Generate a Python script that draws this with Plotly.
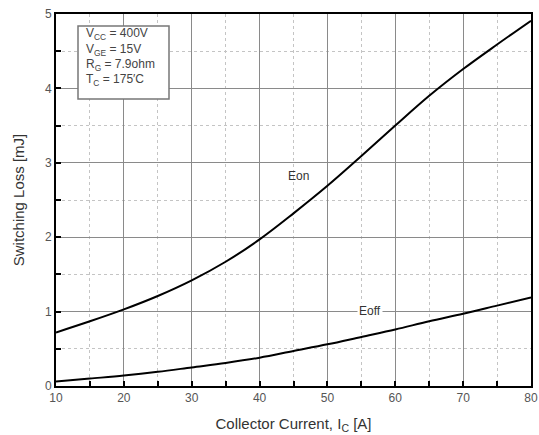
import plotly.graph_objects as go

current = [10, 15, 20, 25, 30, 35, 40, 45, 50, 55, 60, 65, 70, 75, 80]
eon = [0.72, 0.87, 1.03, 1.21, 1.42, 1.67, 1.97, 2.32, 2.69, 3.09, 3.50, 3.90, 4.26, 4.59, 4.91]
eoff = [0.06, 0.10, 0.14, 0.19, 0.25, 0.31, 0.38, 0.47, 0.56, 0.66, 0.76, 0.87, 0.97, 1.08, 1.19]

cond_lines = ["V<sub>CC</sub> = 400V", "V<sub>GE</sub> = 15V", "R<sub>G</sub> = 7.9ohm", "T<sub>C</sub> = 175\u2032C"]

FONT = "Liberation Sans, Arial, sans-serif"

fig = go.Figure()
fig.add_trace(go.Scatter(x=current, y=eon, mode="lines", line=dict(color="black", width=2, shape="spline", smoothing=1.0), name="Eon"))
fig.add_trace(go.Scatter(x=current, y=eoff, mode="lines", line=dict(color="black", width=2, shape="spline", smoothing=1.0), name="Eoff"))

axis_common = dict(
    showline=True, linecolor="black", linewidth=2, mirror=True,
    ticks="inside", ticklen=5, tickcolor="black", tickwidth=1.5,
    showgrid=True, gridcolor="#8a8a8a", gridwidth=1,
    zeroline=False, automargin=False, ticklabeloverflow="allow",
    tickfont=dict(family=FONT, size=12, color="#555555"),
)

fig.update_xaxes(
    range=[10, 80], dtick=10, tick0=10,
    minor=dict(dtick=5, showgrid=True, gridcolor="#c4c4c4", griddash="dot", ticks="inside", ticklen=5, tickcolor="black"),
    title=dict(text="Collector Current, I<sub>C</sub> [A]", font=dict(family=FONT, size=15, color="#333333"), standoff=14),
    **axis_common,
)
fig.update_yaxes(
    range=[0, 5], dtick=1,
    minor=dict(dtick=0.5, showgrid=True, gridcolor="#c4c4c4", griddash="dot", ticks="inside", ticklen=5, tickcolor="black"),
    title=dict(text="Switching Loss [mJ]", font=dict(family=FONT, size=15, color="#333333"), standoff=17),
    **axis_common,
)

# condition box (paper coords; plot area 475 x 372 px)
PW, PH = 475.0, 372.0
fig.add_shape(type="rect", xref="paper", yref="paper",
              x0=(78 - 56) / PW, x1=(169 - 56) / PW,
              y0=(386 - 99) / PH, y1=(386 - 26) / PH,
              line=dict(color="#777777", width=1.5), fillcolor="white", layer="above")
for i, t in enumerate(cond_lines):
    ypix = 34 + i * 15.5
    fig.add_annotation(text=t, xref="paper", yref="paper",
                       x=(84 - 56) / PW, y=(386 - ypix) / PH,
                       xanchor="left", yanchor="middle", showarrow=False,
                       font=dict(family=FONT, size=12, color="#444444"))

fig.add_annotation(text="Eon", x=45.8, y=2.82, showarrow=False,
                   font=dict(family=FONT, size=12, color="#333333"))
fig.add_annotation(text="Eoff", x=56.2, y=1.01, showarrow=False, bgcolor="white",
                   font=dict(family=FONT, size=12, color="#333333"))

fig.update_layout(
    width=539, height=435,
    margin=dict(l=56, r=8, t=14, b=49),
    plot_bgcolor="white", paper_bgcolor="white",
    showlegend=False,
)

fig.write_html("out.html", config={"displayModeBar": False},
               post_script="document.body.style.margin='0';document.body.style.overflow='hidden';")
